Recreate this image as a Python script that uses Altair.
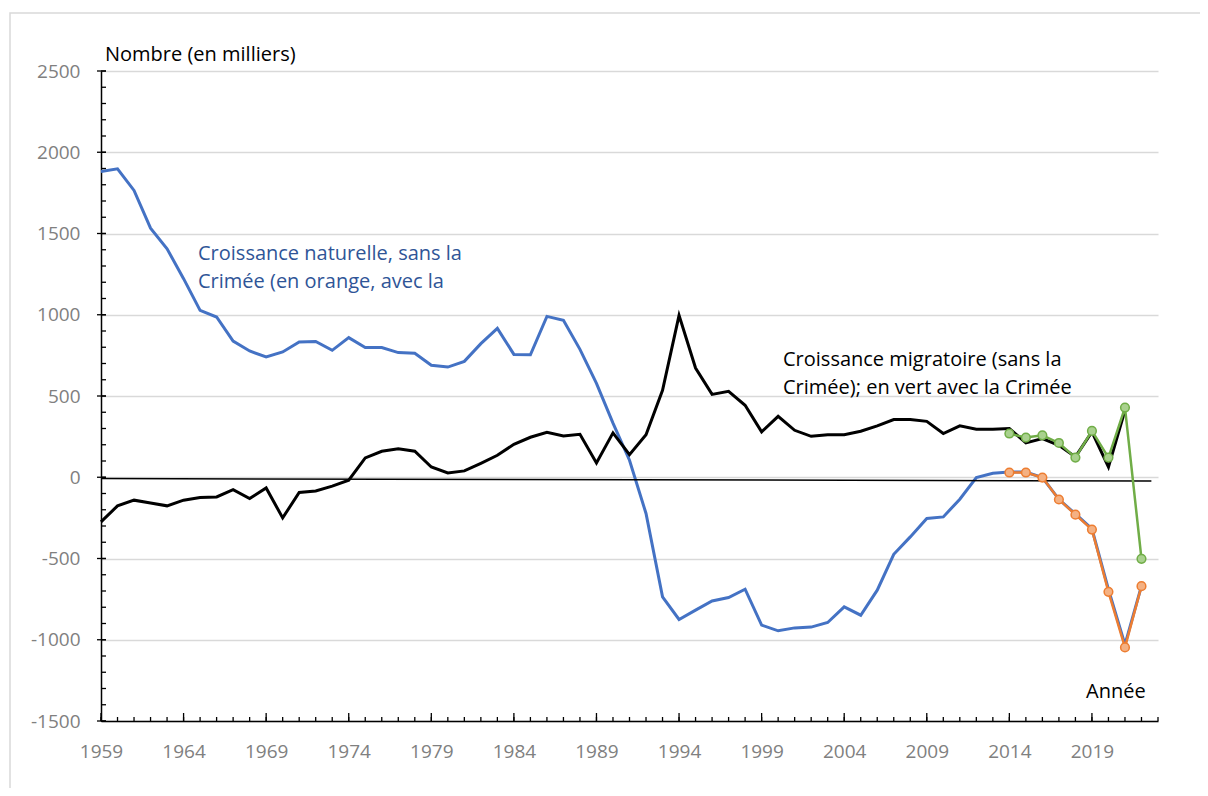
import altair as alt
import pandas as pd

# ---------------- data ----------------
years = list(range(1959, 2023))
natural = [1882, 1898, 1765, 1533, 1406, 1222, 1027, 986, 838, 777,
           740, 771, 832, 836, 781, 859, 798, 798, 767, 763,
           689, 678, 713, 822, 916, 756, 754, 990, 966, 787,
           578, 333, 105, -223, -736, -875, -818, -761, -740, -689,
           -910, -945, -927, -922, -894, -798, -849, -695, -474, -367,
           -254, -244, -135, -2, 24, 32, 32, -2, -136, -226,
           -318, -690, -1030, -668]

mig_years = list(range(1959, 2022))
migration = [-275, -176, -141, -158, -176, -141, -125, -121, -76, -131,
             -66, -250, -94, -84, -55, -18, 119, 160, 176, 160,
             63, 26, 39, 86, 135, 203, 246, 277, 254, 264,
             88, 273, 139, 262, 535, 996, 672, 510, 529, 443,
             279, 375, 289, 252, 262, 262, 283, 316, 355, 355,
             344, 269, 316, 296, 296, 300, 211, 238, 197, 125,
             279, 63, 412]

crimea_years = list(range(2014, 2023))
natural_crimea = [29, 29, -2, -137, -230, -322, -705, -1047, -670]
migration_crimea = [269, 244, 258, 211, 121, 285, 121, 429, -502]

zero_x = [1959, 2022.6]
zero_y = [-8, -23]

y_minor = list(range(-1500, 2501, 100))
y_major = list(range(-1500, 2501, 500))
x_minor = list(range(1959, 2024))
x_major = list(range(1959, 2024, 5))
x_labels = list(range(1959, 2020, 5))

FONT = "Open Sans"
W, H = 1057, 650

xs = alt.Scale(domain=[1959, 2023], nice=False, zero=False)
ys = alt.Scale(domain=[-1500, 2500], nice=False, zero=False)

df_nat = pd.DataFrame({"year": years, "value": natural})
df_mig = pd.DataFrame({"year": mig_years, "value": migration})
df_natc = pd.DataFrame({"year": crimea_years, "value": natural_crimea})
df_migc = pd.DataFrame({"year": crimea_years, "value": migration_crimea})
df_zero = pd.DataFrame({"year": zero_x, "value": zero_y})
one = pd.DataFrame({"a": [0]})

x_axis = alt.Axis(values=x_labels, labelExpr="datum.value + ''", tickSize=0,
                  labelPadding=21, domainColor="black", domainWidth=1.5,
                  grid=False, title=None, labelFont=FONT, labelFontSize=19,
                  labelColor="#808080", labelFlush=False, labelBaseline="top")
y_axis = alt.Axis(values=y_major, labelExpr="datum.value + ''", tickSize=0,
                  labelPadding=21, grid=True, gridColor="#d9d9d9", gridWidth=1.5,
                  domainColor="black", domainWidth=1.5, title=None,
                  labelFont=FONT, labelFontSize=19, labelColor="#808080",
                  labelBaseline="middle")


def X(field="year"):
    return alt.X(f"{field}:Q", scale=xs, axis=x_axis)


def Y(field="value"):
    return alt.Y(f"{field}:Q", scale=ys, axis=y_axis)


border = alt.Chart(one).mark_rect(fill=None, stroke="#d9d9d9", strokeWidth=1.5).encode(
    x=alt.value(-91), x2=alt.value(1120), y=alt.value(-58), y2=alt.value(760))

blue = alt.Chart(df_nat).mark_line(color="#4472C4", strokeWidth=3).encode(x=X(), y=Y())
black = alt.Chart(df_mig).mark_line(color="black", strokeWidth=3).encode(x=X(), y=Y())
zero = alt.Chart(df_zero).mark_line(color="black", strokeWidth=1.5).encode(x=X(), y=Y())

orange = alt.Chart(df_natc).mark_line(
    color="#ED7D31", strokeWidth=2.5,
    point=alt.OverlayMarkDef(filled=True, fill="#F4B183", stroke="#ED7D31",
                             strokeWidth=1.5, size=75)).encode(x=X(), y=Y())

green = alt.Chart(df_migc).mark_line(
    color="#70AD47", strokeWidth=2.5,
    point=alt.OverlayMarkDef(filled=True, fill="#A9D18E", stroke="#70AD47",
                             strokeWidth=1.5, size=75)).encode(x=X(), y=Y())

ytick_minor = alt.Chart(pd.DataFrame({"value": y_minor})).mark_rule(color="black", strokeWidth=1.3).encode(
    y=Y(), x=alt.value(0), x2=alt.value(5))
ytick_major = alt.Chart(pd.DataFrame({"value": y_major})).mark_rule(color="black", strokeWidth=1.3).encode(
    y=Y(), x=alt.value(-4), x2=alt.value(5))
xtick_minor = alt.Chart(pd.DataFrame({"year": x_minor})).mark_rule(color="black", strokeWidth=1.3).encode(
    x=X(), y=alt.value(H), y2=alt.value(H - 4))
xtick_major = alt.Chart(pd.DataFrame({"year": x_major})).mark_rule(color="black", strokeWidth=1.3).encode(
    x=X(), y=alt.value(H), y2=alt.value(H - 8))


def label(lines, x, y, color="black"):
    return alt.Chart(one).mark_text(
        align="left", baseline="alphabetic", font=FONT, fontSize=20,
        lineHeight=28, color=color).encode(
        x=alt.value(x), y=alt.value(y), text=alt.value(lines))


t_nombre = label(["Nombre (en milliers)"], 4, -10)
t_nat = label(["Croissance naturelle, sans la", "Crimée (en orange, avec la"], 97, 189, "#2F5597")
t_mig = label(["Croissance migratoire (sans la", "Crimée); en vert avec la Crimée"], 682, 295)
t_annee = label(["Année"], 985, 627)

chart = alt.layer(
    border, blue, black, zero, orange, green,
    ytick_minor, ytick_major, xtick_minor, xtick_major,
    t_nombre, t_nat, t_mig, t_annee
).properties(
    width=W, height=H,
    autosize=alt.AutoSizeParams(type="none"),
    padding={"left": 93, "top": 63, "right": 42, "bottom": 67},
    background="white"
).configure_view(stroke=None)

chart.save("out.html", embed_options={"renderer": "svg", "actions": False})
